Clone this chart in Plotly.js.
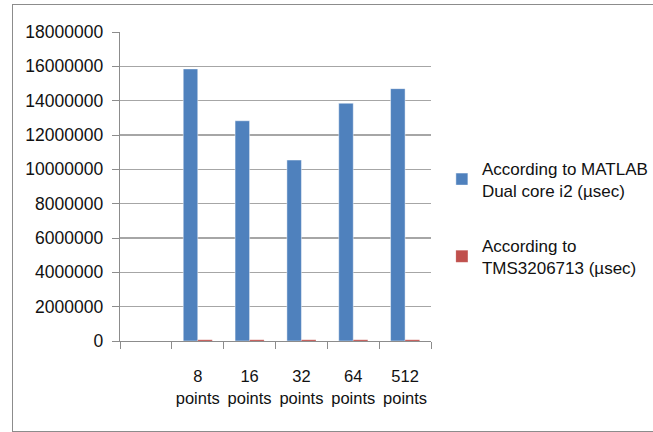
<!DOCTYPE html>
<html><head><meta charset="utf-8">
<script src="https://cdn.plot.ly/plotly-3.0.1.min.js"></script>
<style>
html,body{margin:0;padding:0;background:#fff;overflow:hidden;width:653px;height:432px;}
#chart{width:690px;height:432px;}
#frame{position:absolute;left:12px;top:4px;width:640px;height:426px;border:1.5px solid #8c8c8c;border-right:none;pointer-events:none;}
</style></head>
<body>
<div id="chart"></div>
<div id="frame"></div>
<script>
const categories = [" ", "8<br>points", "16<br>points", "32<br>points", "64<br>points", "512<br>points"];
const matlabValues = [null, 15850000, 12830000, 10540000, 13850000, 14700000];
const tmsValues = [null, 70000, 70000, 70000, 70000, 70000];
const seriesNames = ["According to MATLAB<br>Dual core i2 (µsec)", "According to<br>TMS3206713 (µsec)"];
const yTicks = [0, 2000000, 4000000, 6000000, 8000000, 10000000, 12000000, 14000000, 16000000, 18000000];

const font = "Liberation Sans, Arial, sans-serif";
const data = [
  {type:"bar", x:categories, y:matlabValues, name:seriesNames[0], legendgroup:"a",
   marker:{color:"#4f81bd", line:{color:"rgba(255,255,255,0.45)", width:1}}},
  {type:"bar", x:categories, y:tmsValues, name:seriesNames[1], legendgroup:"b",
   marker:{color:"#c0504d", line:{color:"rgba(255,255,255,0.3)", width:0.5}}}
];
const layout = {
  width:690, height:432,
  margin:{l:120, r:259, t:32, b:91},
  paper_bgcolor:"#fff", plot_bgcolor:"#fff",
  barmode:"group", bargap:0.44, bargroupgap:0,
  font:{family:font, color:"#111", size:17.5},
  xaxis:{type:"category", tickson:"boundaries", ticks:"outside", ticklen:7, tickcolor:"#8c8c8c",
    tickangle:0, ticklabelstandoff:20, showline:true, linecolor:"#8c8c8c", linewidth:1.3, showgrid:false,
    tickfont:{family:font, size:16.5, color:"#111"}, fixedrange:true},
  yaxis:{range:[0,18000000], tickvals:yTicks, ticktext:yTicks.map(v=>String(v)),
    ticks:"outside", ticklen:7, tickcolor:"#8c8c8c", ticklabelstandoff:5,
    showline:true, linecolor:"#8c8c8c", linewidth:1.3,
    showgrid:true, gridcolor:"#a6a6a6", gridwidth:1.3, zeroline:false,
    tickfont:{family:font, size:17.5, color:"#111"}, fixedrange:true},
  legend:{x:1.035, xanchor:"left", y:0.398, yanchor:"middle", traceorder:"grouped", tracegroupgap:30,
    font:{family:font, size:17, color:"#111"}, bgcolor:"rgba(0,0,0,0)"},
  showlegend:true
};
Plotly.newPlot("chart", data, layout, {displayModeBar:false, staticPlot:true});
</script>
</body></html>
